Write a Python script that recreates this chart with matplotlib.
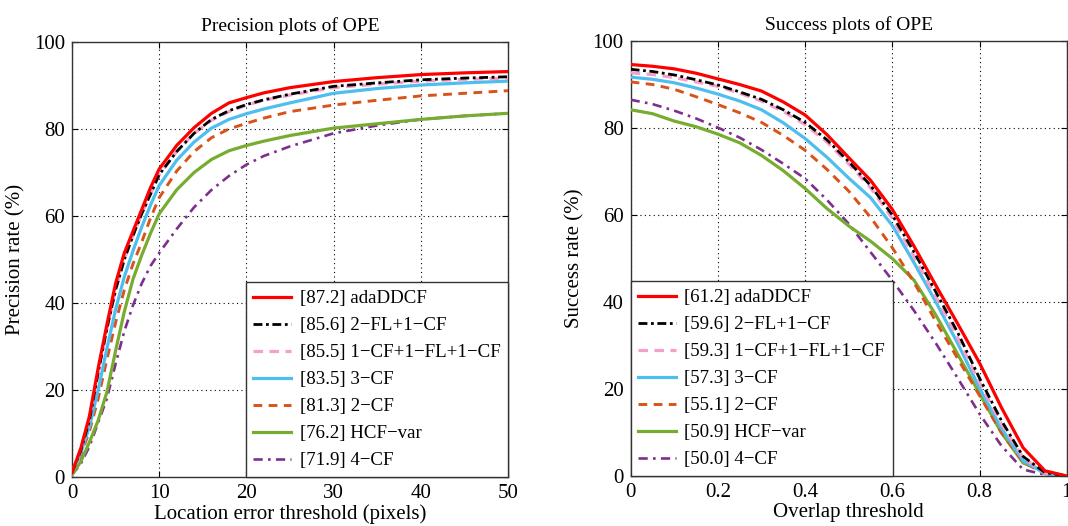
import numpy as np
import matplotlib
matplotlib.use('Agg')
import matplotlib.pyplot as plt

plt.rcParams['font.family'] = ['Liberation Serif', 'DejaVu Serif']

# precision plot: location error threshold (pixels)
loc_thr = [0, 1, 2, 3, 4, 5, 6, 7, 8, 9, 10, 12, 14, 16, 18, 20, 22, 25, 30, 35, 40, 45, 50]
prec_ada = [1, 6.5, 14, 25, 35, 44.5, 51.5, 56.5, 61.5, 66.5, 70.8, 76.2, 80.3, 83.6, 86, 87.2, 88.3, 89.5, 90.9, 91.8, 92.5, 92.9, 93.2]
prec_2fl = [1, 6, 13, 24, 34, 43, 50, 55.5, 60.5, 65, 69.5, 74.8, 79, 82.2, 84.2, 85.6, 86.7, 88, 89.8, 90.6, 91.3, 91.7, 92.0]
prec_1cf = [1, 6.5, 13.5, 24, 34, 43, 50, 55.5, 60.5, 65, 69.5, 74.8, 79, 82, 84, 85.5, 86.6, 87.8, 89.5, 90.3, 91.0, 91.4, 91.7]
prec_3cf = [1, 5.5, 11.5, 20, 29.5, 38.5, 46, 52, 57.5, 62.5, 67, 72.8, 77, 80.2, 82.2, 83.5, 84.6, 86, 88.2, 89.3, 90.1, 90.6, 91.0]
prec_2cf = [1, 5, 10.5, 18, 27, 35.5, 43, 49, 54, 59.5, 64.2, 70.3, 74.8, 78, 80, 81.3, 82.5, 84, 85.5, 86.6, 87.6, 88.2, 88.8]
prec_hcf = [0.5, 3.5, 8, 13, 19.5, 29, 38, 45.5, 51, 56, 60.5, 66, 70, 73, 75, 76.2, 77.2, 78.5, 80.2, 81.2, 82.2, 83, 83.6]
prec_4cf = [0.5, 3, 7, 12.5, 18, 26, 33.5, 39.5, 44.5, 48.5, 51.5, 57, 62, 66, 69.2, 71.8, 73.8, 76, 79, 80.8, 82.2, 83, 83.6]

# success plot: overlap threshold
ovl_thr = [0, 0.05, 0.1, 0.15, 0.2, 0.25, 0.3, 0.35, 0.4, 0.45, 0.5,
           0.55, 0.6, 0.65, 0.7, 0.75, 0.8, 0.85, 0.9, 0.95, 1.0]
succ_ada = [94.6, 94.2, 93.6, 92.6, 91.3, 90.0, 88.5, 86.0, 83.0, 78.5, 73.2, 68.0, 61.3, 52.8, 43.8, 35.0, 26.0, 15.8, 6.5, 1.2, 0]
succ_2fl = [93.5, 93.0, 92.2, 91.1, 89.9, 88.3, 86.6, 84.2, 81.3, 77.3, 72.3, 66.8, 60.0, 51.5, 42.3, 33.0, 22.5, 12.8, 4.5, 0.8, 0]
succ_1cf = [92.7, 92.3, 91.6, 90.6, 89.6, 88.0, 86.2, 83.8, 80.8, 76.8, 71.8, 66.3, 59.2, 50.5, 41.2, 31.8, 21.5, 12.0, 4.2, 0.7, 0]
succ_3cf = [91.7, 91.2, 90.4, 89.2, 87.8, 86.2, 84.2, 81.2, 77.6, 73.3, 68.5, 64.0, 57.6, 49.0, 40.0, 30.5, 20.2, 11.0, 3.5, 0.6, 0]
succ_2cf = [90.6, 90.0, 88.9, 87.2, 85.4, 83.5, 81.3, 78.3, 74.9, 70.5, 65.5, 59.5, 52.5, 44.5, 35.5, 27.0, 18.5, 10.0, 3.2, 0.5, 0]
succ_hcf = [84.2, 83.3, 81.6, 80.3, 78.6, 76.6, 73.7, 70.2, 66.1, 61.5, 57.5, 54.0, 50.0, 45.0, 37.0, 28.0, 19.0, 10.0, 3.0, 1.0, 0]
succ_4cf = [86.5, 85.5, 84.0, 82.2, 80.1, 77.8, 75.0, 71.8, 68.4, 63.5, 58.0, 51.5, 45.0, 38.0, 30.5, 22.5, 14.3, 7.0, 1.5, 0.3, 0]

prec_names = ['[87.2] adaDDCF', '[85.6] 2\u2212FL+1\u2212CF', '[85.5] 1\u2212CF+1\u2212FL+1\u2212CF',
              '[83.5] 3\u2212CF', '[81.3] 2\u2212CF', '[76.2] HCF\u2212var', '[71.9] 4\u2212CF']
succ_names = ['[61.2] adaDDCF', '[59.6] 2\u2212FL+1\u2212CF', '[59.3] 1\u2212CF+1\u2212FL+1\u2212CF',
              '[57.3] 3\u2212CF', '[55.1] 2\u2212CF', '[50.9] HCF\u2212var', '[50.0] 4\u2212CF']

# line styles: (color, linestyle, linewidth)
styles = [
    ('#ff0000', '-', 2.3),
    ('#000000', (0, (3.2, 1.3, 1, 1.3)), 2.0),
    ('#f79fcb', (0, (3, 2)), 2.3),
    ('#4dbeee', '-', 2.3),
    ('#d95319', (0, (3, 2.2)), 2.1),
    ('#77ac30', '-', 2.3),
    ('#7e2f8e', (0, (3.5, 2, 1, 2)), 1.9),
]


def setup(ax, xlim, xticks, xticklabels):
    ax.set_xlim(xlim)
    ax.set_ylim(0, 100)
    ax.set_xticks(xticks)
    ax.set_xticklabels(xticklabels)
    ax.set_yticks([0, 20, 40, 60, 80, 100])
    ax.grid(True, color='black', linestyle=(0, (1, 3)), linewidth=0.8)
    ax.tick_params(direction='in', top=True, right=True, labelsize=15, length=4, pad=5)
    for s in ax.spines.values():
        s.set_color('#333333')
        s.set_linewidth(1.0)


fig = plt.figure(figsize=(10.68, 5.26), dpi=100)
ax1 = fig.add_axes([0.0674, 0.0932, 0.4083, 0.827])
ax2 = fig.add_axes([0.5905, 0.095, 0.4083, 0.827])

prec = [prec_ada, prec_2fl, prec_1cf, prec_3cf, prec_2cf, prec_hcf, prec_4cf]
succ = [succ_ada, succ_2fl, succ_1cf, succ_3cf, succ_2cf, succ_hcf, succ_4cf]

for i in range(len(prec)):
    c, ls, lw = styles[i]
    ax1.plot(loc_thr, prec[i], color=c, linestyle=ls, linewidth=lw, label=prec_names[i], zorder=10 - i)
    ax2.plot(ovl_thr, succ[i], color=c, linestyle=ls, linewidth=lw, label=succ_names[i], zorder=10 - i)

setup(ax1, (0, 50), [0, 10, 20, 30, 40, 50], ['0', '10', '20', '30', '40', '50'])
setup(ax2, (0, 1), [0, 0.2, 0.4, 0.6, 0.8, 1.0], ['0', '0.2', '0.4', '0.6', '0.8', '1'])

ax1.set_title('Precision plots of OPE', fontsize=14, pad=8)
ax2.set_title('Success plots of OPE', fontsize=14, pad=8)
ax1.set_xlabel('Location error threshold (pixels)', fontsize=15, labelpad=1)
ax2.set_xlabel('Overlap threshold', fontsize=15, labelpad=1)
ax1.set_ylabel('Precision rate (%)', fontsize=15, labelpad=6)
ax2.set_ylabel('Success rate (%)', fontsize=15, labelpad=6)

leg_kw = dict(fontsize=13.6, frameon=True, fancybox=False, edgecolor='#333333', framealpha=1,
              borderaxespad=0, handlelength=2.0, labelspacing=0.52, handletextpad=0.45,
              borderpad=0.4)
l1 = ax1.legend(loc='lower right', **leg_kw)
l2 = ax2.legend(loc='lower left', **leg_kw)
for l in (l1, l2):
    l.get_frame().set_linewidth(1.0)
    l.set_zorder(20)

fig.savefig('out.png', dpi=100)
